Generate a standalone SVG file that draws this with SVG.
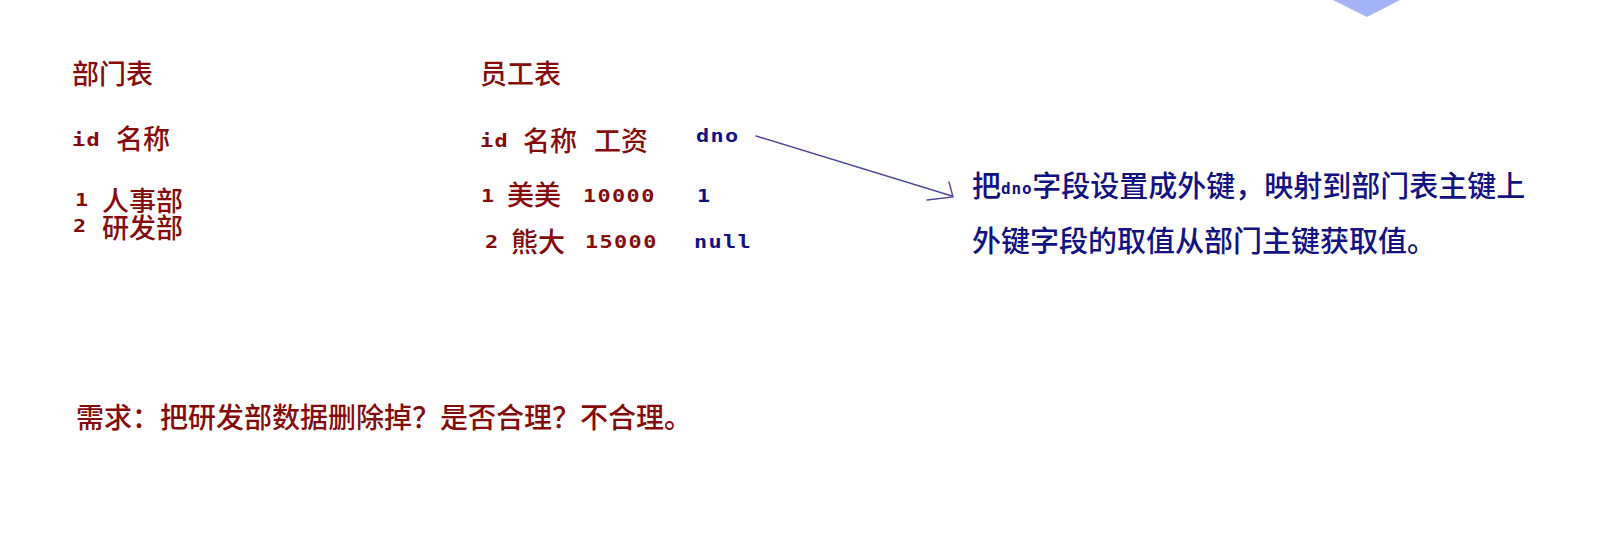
<svg xmlns="http://www.w3.org/2000/svg" width="1614" height="558" viewBox="0 0 1614 558">
<style>
.cn{font-family:"Noto Sans CJK SC","Noto Sans",sans-serif;font-size:27px;font-weight:500}
.big{font-size:28px}
.note{font-size:29px}
.r{fill:#860c0c}
.b{fill:#121283}
.m{font-family:"DejaVu Sans Mono","Liberation Mono",monospace;font-weight:bold;font-size:17.5px;letter-spacing:1.1px}
.conn{stroke:#4a4aa0;stroke-width:1.4;fill:none;stroke-linecap:round}
</style>
<rect width="1614" height="558" fill="#ffffff"/>
<polygon points="1333,0 1367,17 1400,0" fill="#a4b2f7"/>
<g id="dept">
<text class="cn r" x="72" y="84">部门表</text>
<text class="m r" transform="translate(72,146) scale(1.25,1)">id</text>
<text class="cn r" x="116" y="149">名称</text>
<text class="m r" transform="translate(75,206) scale(1.25,1)">1</text>
<text class="cn r" x="102" y="211">人事部</text>
<text class="m r" transform="translate(73,232) scale(1.25,1)">2</text>
<text class="cn r" x="102" y="238">研发部</text>
</g>
<g id="emp">
<text class="cn r" x="480" y="84">员工表</text>
<text class="m r" transform="translate(480,147) scale(1.25,1)">id</text>
<text class="cn r" x="523" y="151">名称</text>
<text class="cn r" x="594" y="151">工资</text>
<text class="m b" transform="translate(696,142) scale(1.25,1)">dno</text>
<text class="m r" transform="translate(481,202) scale(1.25,1)">1</text>
<text class="cn r" x="507" y="205">美美</text>
<text class="m r" transform="translate(583,202) scale(1.25,1)">10000</text>
<text class="m b" transform="translate(697,202) scale(1.25,1)">1</text>
<text class="m r" transform="translate(485,248) scale(1.25,1)">2</text>
<text class="cn r" x="511" y="252">熊大</text>
<text class="m r" transform="translate(585,248) scale(1.25,1)">15000</text>
<text class="m b" transform="translate(694,248) scale(1.25,1)">null</text>
</g>
<g id="note">
<text class="cn note b" x="972" y="197">把<tspan font-family="DejaVu Sans Mono,monospace" font-weight="bold" font-size="16" letter-spacing="0.8" dy="-3">dno</tspan><tspan dy="3">字段设置成外键，映射到部门表主键上</tspan></text>
<text class="cn note b" x="972" y="252">外键字段的取值从部门主键获取值。</text>
</g>
<g id="req">
<text class="cn big r" x="76" y="428">需求：把研发部数据删除掉？是否合理？不合理。</text>
</g>
<g id="connectors">
<line class="conn" x1="756" y1="136" x2="952" y2="196"/>
<polyline class="conn" points="949,182 953,197 927,200"/>
</g>
</svg>
